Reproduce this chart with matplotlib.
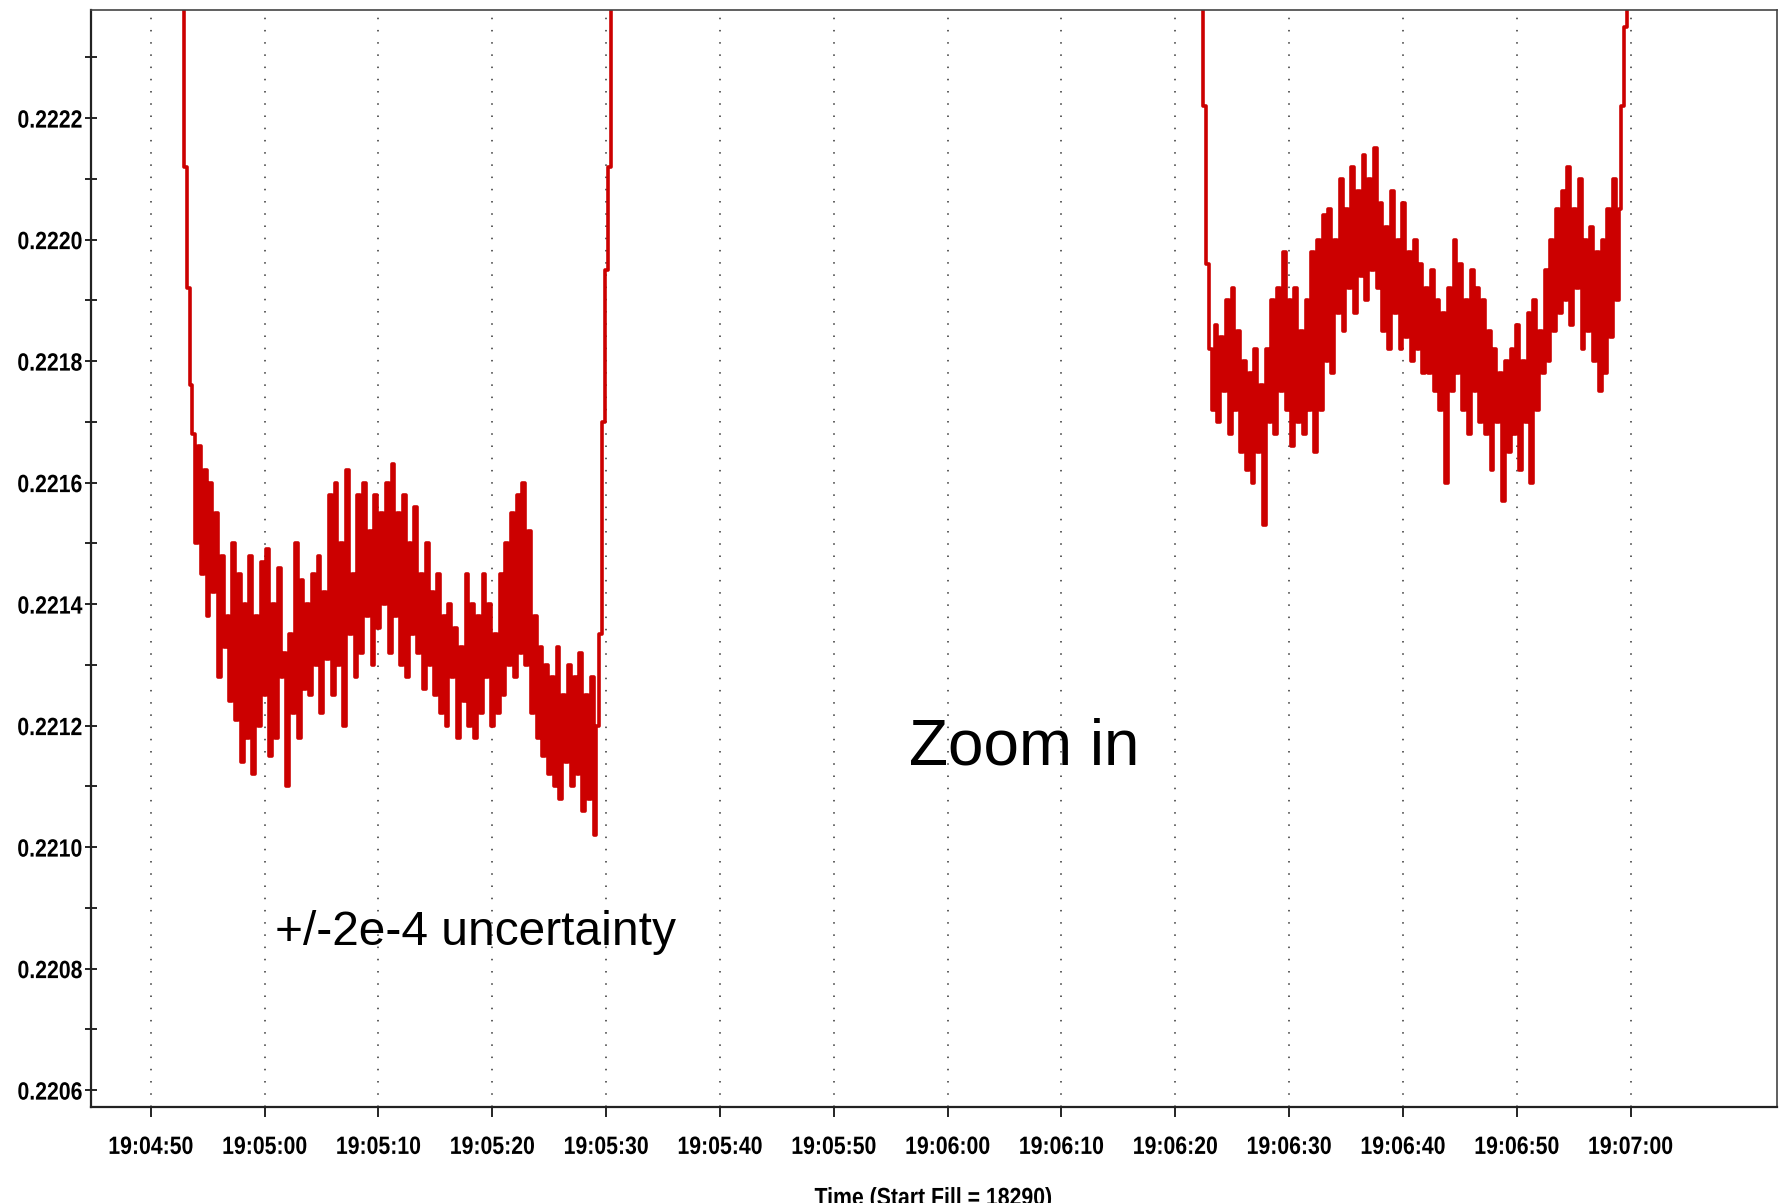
import numpy as np
import matplotlib.pyplot as plt
from matplotlib.ticker import MultipleLocator, FixedLocator
from matplotlib.patheffects import AbstractPathEffect
from matplotlib.transforms import Affine2D

# time in seconds after 19:04:50, one sample every 0.25 s
t1_start = 2.65
val1 = [
    0.2226, 0.22212, 0.22192, 0.22176,
    0.22168, 0.22150, 0.22166, 0.22145,
    0.22162, 0.22138, 0.22160, 0.22142,
    0.22155, 0.22128, 0.22148, 0.22133,
    0.22138, 0.22124, 0.22150, 0.22121,
    0.22145, 0.22114, 0.22140, 0.22118,
    0.22148, 0.22112, 0.22138, 0.22120,
    0.22147, 0.22125, 0.22149, 0.22115,
    0.22140, 0.22118, 0.22146, 0.22128,
    0.22132, 0.22110, 0.22135, 0.22122,
    0.22150, 0.22118, 0.22144, 0.22126,
    0.22140, 0.22125, 0.22145, 0.22130,
    0.22148, 0.22122, 0.22142, 0.22131,
    0.22158, 0.22125, 0.22160, 0.22130,
    0.22150, 0.22120, 0.22162, 0.22135,
    0.22145, 0.22128, 0.22158, 0.22132,
    0.22160, 0.22138, 0.22152, 0.22130,
    0.22158, 0.22136, 0.22155, 0.22140,
    0.22160, 0.22132, 0.22163, 0.22138,
    0.22155, 0.22130, 0.22158, 0.22128,
    0.22150, 0.22135, 0.22156, 0.22132,
    0.22145, 0.22126, 0.22150, 0.22130,
    0.22142, 0.22125, 0.22145, 0.22122,
    0.22138, 0.22120, 0.22140, 0.22128,
    0.22136, 0.22118, 0.22133, 0.22124,
    0.22145, 0.22120, 0.22140, 0.22118,
    0.22138, 0.22122, 0.22145, 0.22128,
    0.22140, 0.22120, 0.22135, 0.22122,
    0.22145, 0.22125, 0.22150, 0.22130,
    0.22155, 0.22128, 0.22158, 0.22132,
    0.22160, 0.22130, 0.22152, 0.22122,
    0.22138, 0.22118, 0.22133, 0.22115,
    0.22130, 0.22112, 0.22128, 0.22110,
    0.22133, 0.22108, 0.22125, 0.22114,
    0.22130, 0.22110, 0.22128, 0.22112,
    0.22132, 0.22106, 0.22125, 0.22108,
    0.22128, 0.22102, 0.22120, 0.22135,
    0.22170, 0.22195, 0.22212, 0.2226,
]

t2_start = 92.2
val2 = [
    0.2226, 0.22222, 0.22196, 0.22182,
    0.22172, 0.22186, 0.22170, 0.22184,
    0.22175, 0.22190, 0.22168, 0.22192,
    0.22172, 0.22185, 0.22165, 0.22180,
    0.22162, 0.22178, 0.22160, 0.22182,
    0.22165, 0.22176, 0.22153, 0.22182,
    0.22170, 0.22190, 0.22168, 0.22192,
    0.22175, 0.22198, 0.22172, 0.22190,
    0.22166, 0.22192, 0.22170, 0.22185,
    0.22168, 0.22190, 0.22172, 0.22198,
    0.22165, 0.22200, 0.22172, 0.22204,
    0.22180, 0.22205, 0.22178, 0.22200,
    0.22188, 0.22210, 0.22185, 0.22205,
    0.22192, 0.22212, 0.22188, 0.22208,
    0.22194, 0.22214, 0.22190, 0.22210,
    0.22195, 0.22215, 0.22192, 0.22206,
    0.22185, 0.22202, 0.22182, 0.22208,
    0.22188, 0.22200, 0.22182, 0.22206,
    0.22184, 0.22198, 0.22180, 0.22200,
    0.22182, 0.22196, 0.22178, 0.22192,
    0.22178, 0.22195, 0.22175, 0.22190,
    0.22172, 0.22188, 0.22160, 0.22192,
    0.22175, 0.22200, 0.22178, 0.22196,
    0.22172, 0.22190, 0.22168, 0.22195,
    0.22175, 0.22192, 0.22170, 0.22190,
    0.22168, 0.22185, 0.22162, 0.22182,
    0.22170, 0.22178, 0.22157, 0.22180,
    0.22165, 0.22182, 0.22168, 0.22186,
    0.22162, 0.22180, 0.22170, 0.22188,
    0.22160, 0.22190, 0.22172, 0.22185,
    0.22178, 0.22195, 0.22180, 0.22200,
    0.22185, 0.22205, 0.22188, 0.22208,
    0.22190, 0.22212, 0.22186, 0.22205,
    0.22192, 0.22210, 0.22182, 0.22200,
    0.22185, 0.22202, 0.22180, 0.22198,
    0.22175, 0.22200, 0.22178, 0.22205,
    0.22184, 0.22210, 0.22190, 0.22205,
    0.22222, 0.22235, 0.2226,
]

xtick_sec = [0, 10, 20, 30, 40, 50, 60, 70, 80, 90, 100, 110, 120, 130]
xtick_labels = ['19:04:50', '19:05:00', '19:05:10', '19:05:20', '19:05:30',
                '19:05:40', '19:05:50', '19:06:00', '19:06:10', '19:06:20',
                '19:06:30', '19:06:40', '19:06:50', '19:07:00']

t1 = t1_start + 0.25 * np.arange(len(val1))
t2 = t2_start + 0.25 * np.arange(len(val2))


# no narrow font installed, so squeeze the bold labels sideways
class Squeeze(AbstractPathEffect):
    def __init__(self, sx, anchor='center'):
        super().__init__()
        self.sx = sx
        self.anchor = anchor

    def draw_path(self, renderer, gc, tpath, affine, rgbFace=None):
        bb = tpath.get_extents(affine)
        x0 = bb.x1 if self.anchor == 'right' else (bb.x0 + bb.x1) / 2
        tr = affine + Affine2D().translate(-x0, 0).scale(self.sx, 1).translate(x0, 0)
        renderer.draw_path(gc, tpath, tr, rgbFace)


lab_font = 'Liberation Sans'
lab_size = 18

fig = plt.figure(figsize=(17.81, 12.03), dpi=100)
ax = fig.add_axes([0.051, 0.0797, 0.947, 0.9120])

red = '#cc0000'
ax.plot(t1, val1, drawstyle='steps-post', color=red, lw=2.6)
ax.plot(t2, val2, drawstyle='steps-post', color=red, lw=2.6)

ax.set_xlim(-5.27, 142.9)
ax.set_ylim(0.220572, 0.222378)

ax.xaxis.set_major_locator(FixedLocator(xtick_sec))
ax.set_xticklabels(xtick_labels)
ax.yaxis.set_major_locator(MultipleLocator(0.0002))
ax.yaxis.set_minor_locator(MultipleLocator(0.0001))
ax.yaxis.set_major_formatter(plt.FuncFormatter(lambda v, p: '%.4f' % v))

for lab in ax.get_xticklabels():
    lab.set_family(lab_font)
    lab.set_fontweight('bold')
    lab.set_fontsize(lab_size)
    lab.set_path_effects([Squeeze(0.85)])
for lab in ax.get_yticklabels():
    lab.set_family(lab_font)
    lab.set_fontweight('bold')
    lab.set_fontsize(lab_size)
    lab.set_path_effects([Squeeze(0.85, 'right')])

ax.tick_params(axis='x', direction='out', length=7, width=1.2, pad=13)
ax.tick_params(axis='y', which='both', direction='inout', length=8, width=1.2, pad=2)

ax.grid(axis='x', color='#333333', linestyle=(0, (1, 7)), linewidth=1.1)

for s in ['left', 'bottom']:
    ax.spines[s].set_linewidth(1.6)
    ax.spines[s].set_color('#222222')
for s in ['top', 'right']:
    ax.spines[s].set_linewidth(1.2)
    ax.spines[s].set_color('#444444')

ax.text(76.7, 0.221164, 'Zoom in', fontsize=46, family='Liberation Sans',
        ha='center', va='center')
ax.text(28.5, 0.22086, '+/-2e-4 uncertainty', fontsize=34.5, family='Liberation Sans',
        ha='center', va='center')

fig.text(0.524, 0.014, 'Time (Start Fill = 18290)', family=lab_font, fontweight='bold',
         fontsize=lab_size, ha='center', va='top', path_effects=[Squeeze(0.85)])

fig.savefig('out.png', dpi=100)
